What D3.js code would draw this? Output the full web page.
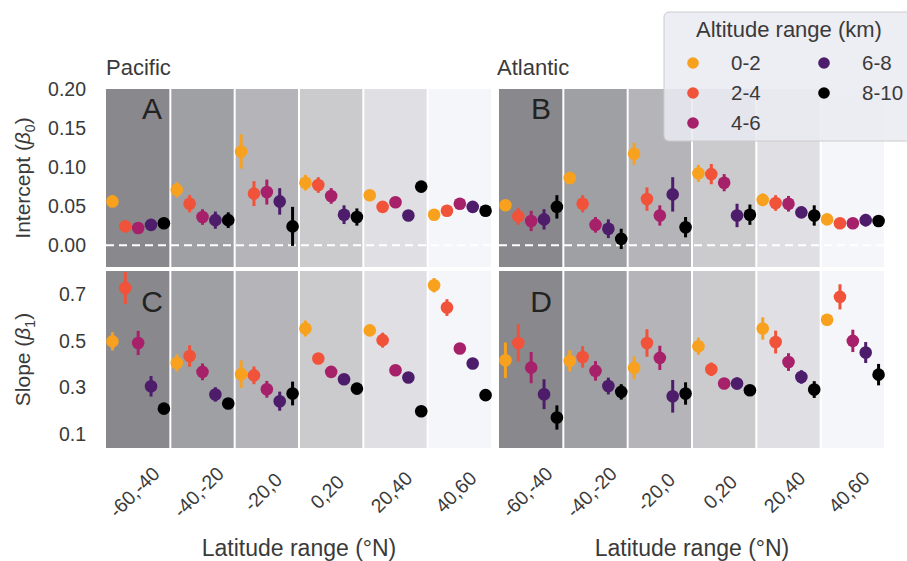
<!DOCTYPE html>
<head>
<meta charset="utf-8">
<script src="https://d3js.org/d3.v7.min.js"></script>
<style>
  body { margin: 0; background: #fff; }
  text { font-family: Arial, "Liberation Sans", sans-serif; }
</style>
</head>
<body>
<div id="datavis"></div>

<script type="text/javascript">
    // categories and series
    var latRanges = ["-60,-40", "-40,-20", "-20,0", "0,20", "20,40", "40,60"];
    var altRanges = ["0-2", "2-4", "4-6", "6-8", "8-10"];
    var altColors = ["#f8a11f", "#f0523a", "#a7216a", "#4d1c6a", "#000000"];
    var bandColors = ["#89888d", "#9fa0a4", "#b5b5b9", "#cbcbce", "#e0e0e4", "#f5f6f9"];

    var interceptTicks = [0.00, 0.05, 0.10, 0.15, 0.20];
    var slopeTicks = [0.1, 0.3, 0.5, 0.7];

    // one row per altitude range, one column per latitude range
    var pacificIntercept = [
      [0.056, 0.071, 0.120, 0.080, 0.064, 0.039],
      [0.024, 0.053, 0.066, 0.077, 0.049, 0.044],
      [0.022, 0.036, 0.068, 0.063, 0.055, 0.053],
      [0.026, 0.032, 0.056, 0.039, 0.038, 0.049],
      [0.028, 0.032, 0.024, 0.036, 0.075, 0.044]
    ];
    var pacificInterceptErr = [
      [0.003, 0.010, 0.022, 0.010, 0.003, 0.003],
      [0.003, 0.011, 0.016, 0.010, 0.003, 0.003],
      [0.003, 0.010, 0.016, 0.010, 0.003, 0.003],
      [0.003, 0.011, 0.017, 0.012, 0.003, 0.003],
      [0.003, 0.010, 0.025, 0.011, 0.003, 0.003]
    ];
    var atlanticIntercept = [
      [0.051, 0.086, 0.117, 0.092, 0.058, 0.033],
      [0.037, 0.053, 0.059, 0.091, 0.054, 0.028],
      [0.031, 0.026, 0.038, 0.080, 0.053, 0.028],
      [0.033, 0.021, 0.065, 0.038, 0.042, 0.032],
      [0.049, 0.008, 0.023, 0.039, 0.038, 0.031]
    ];
    var atlanticInterceptErr = [
      [0.004, 0.008, 0.014, 0.011, 0.008, 0.003],
      [0.011, 0.011, 0.015, 0.013, 0.010, 0.003],
      [0.013, 0.010, 0.013, 0.011, 0.010, 0.003],
      [0.013, 0.012, 0.022, 0.015, 0.007, 0.008],
      [0.015, 0.013, 0.013, 0.013, 0.013, 0.004]
    ];
    var pacificSlope = [
      [0.498, 0.405, 0.357, 0.553, 0.545, 0.739],
      [0.727, 0.435, 0.352, 0.424, 0.503, 0.643],
      [0.491, 0.367, 0.292, 0.367, 0.374, 0.467],
      [0.305, 0.270, 0.241, 0.335, 0.343, 0.403],
      [0.209, 0.231, 0.274, 0.295, 0.198, 0.267]
    ];
    var pacificSlopeErr = [
      [0.039, 0.037, 0.059, 0.034, 0.012, 0.031],
      [0.069, 0.046, 0.038, 0.012, 0.032, 0.036],
      [0.052, 0.036, 0.036, 0.012, 0.012, 0.012],
      [0.044, 0.031, 0.041, 0.012, 0.012, 0.012],
      [0.012, 0.015, 0.051, 0.012, 0.012, 0.012]
    ];
    var atlanticSlope = [
      [0.417, 0.414, 0.384, 0.477, 0.553, 0.591],
      [0.491, 0.431, 0.491, 0.378, 0.495, 0.689],
      [0.385, 0.371, 0.427, 0.317, 0.409, 0.500],
      [0.271, 0.306, 0.262, 0.317, 0.345, 0.450],
      [0.171, 0.281, 0.274, 0.288, 0.291, 0.355]
    ];
    var atlanticSlopeErr = [
      [0.076, 0.045, 0.049, 0.037, 0.048, 0.012],
      [0.080, 0.046, 0.059, 0.029, 0.049, 0.054],
      [0.067, 0.042, 0.052, 0.012, 0.038, 0.048],
      [0.064, 0.036, 0.070, 0.026, 0.029, 0.045],
      [0.052, 0.033, 0.048, 0.015, 0.036, 0.046]
    ];

    var dodge = [-0.4, -0.2, 0, 0.2, 0.4];

    var width = 907, height = 561;
    var svg = d3.select("#datavis")
                .append("svg")
                .attr("width", width)
                .attr("height", height);

    // column x extents and row y extents
    var cols = [{x0: 106, x1: 492}, {x0: 499, x1: 885}];
    var rows = [
      {y0: 89, y1: 267, domain: [-0.028, 0.2], ticks: interceptTicks, fmt: d3.format(".2f")},
      {y0: 271, y1: 448, domain: [0.04, 0.80], ticks: slopeTicks, fmt: d3.format(".1f")}
    ];

    var panels = [
      {col: 0, row: 0, letter: "A", lx: 46, ly: 119, vals: pacificIntercept, errs: pacificInterceptErr},
      {col: 1, row: 0, letter: "B", lx: 42, ly: 119, vals: atlanticIntercept, errs: atlanticInterceptErr},
      {col: 0, row: 1, letter: "C", lx: 46, ly: 312, vals: pacificSlope, errs: pacificSlopeErr},
      {col: 1, row: 1, letter: "D", lx: 42, ly: 312, vals: atlanticSlope, errs: atlanticSlopeErr}
    ];

    panels.forEach(function(p) {
      var c = cols[p.col], r = rows[p.row];
      var x = d3.scaleLinear().domain([-0.5, latRanges.length - 0.5]).range([c.x0, c.x1]);
      var y = d3.scaleLinear().domain(r.domain).range([r.y1, r.y0]);
      var g = svg.append("g");

      // shaded latitude bands
      g.selectAll("rect.band")
       .data(latRanges)
       .enter().append("rect")
       .attr("x", function(d, i) { return x(i - 0.5) + (i == 0 ? 0 : 1); })
       .attr("width", function(d, i) { return x(i + 0.5) - x(i - 0.5) - (i == 0 ? 1 : 2); })
       .attr("y", r.y0)
       .attr("height", r.y1 - r.y0)
       .attr("fill", function(d, i) { return bandColors[i]; });

      // zero line on intercept panels
      if (p.row == 0) {
        g.append("line")
         .attr("x1", c.x0).attr("x2", c.x1)
         .attr("y1", y(0)).attr("y2", y(0))
         .attr("stroke", "#fff")
         .attr("stroke-width", 2)
         .attr("stroke-dasharray", "8,5");
      }

      // panel letter
      g.append("text")
       .attr("x", c.x0 + p.lx)
       .attr("y", p.ly)
       .attr("text-anchor", "middle")
       .attr("font-size", 30)
       .attr("fill", "#222")
       .text(p.letter);

      // error bars and points
      altRanges.forEach(function(alt, k) {
        var pts = latRanges.map(function(lat, i) {
          return {xi: i + dodge[k], v: p.vals[k][i], e: p.errs[k][i]};
        });
        g.selectAll("line.err" + k)
         .data(pts)
         .enter().append("line")
         .attr("x1", function(d) { return x(d.xi); })
         .attr("x2", function(d) { return x(d.xi); })
         .attr("y1", function(d) { return y(d.v - d.e); })
         .attr("y2", function(d) { return y(d.v + d.e); })
         .attr("stroke", altColors[k])
         .attr("stroke-width", 3);
        g.selectAll("circle.pt" + k)
         .data(pts)
         .enter().append("circle")
         .attr("cx", function(d) { return x(d.xi); })
         .attr("cy", function(d) { return y(d.v); })
         .attr("r", 6.3)
         .attr("fill", altColors[k]);
      });

      // y tick labels only on the left column
      if (p.col == 0) {
        g.selectAll("text.ytick")
         .data(r.ticks)
         .enter().append("text")
         .attr("x", 86)
         .attr("y", function(d) { return y(d); })
         .attr("dy", "0.35em")
         .attr("text-anchor", "end")
         .attr("font-size", 19.5)
         .attr("fill", "#3a3a3a")
         .text(r.fmt);
      }

      // rotated x tick labels on the bottom row
      if (p.row == 1) {
        g.selectAll("text.xtick")
         .data(latRanges)
         .enter().append("text")
         .attr("transform", function(d, i) { return "translate(" + (x(i) - 4) + ",492) rotate(-45)"; })
         .attr("dy", "0.35em")
         .attr("text-anchor", "middle")
         .attr("font-size", 19.5)
         .attr("fill", "#3a3a3a")
         .text(function(d) { return d; });

        svg.append("text")
           .attr("x", (c.x0 + c.x1) / 2)
           .attr("y", 556)
           .attr("text-anchor", "middle")
           .attr("font-size", 23)
           .attr("fill", "#3a3a3a")
           .text("Latitude range (°N)");
      }
    });

    // ocean titles
    svg.append("text").attr("x", 106).attr("y", 75).attr("font-size", 22).attr("fill", "#3a3a3a").text("Pacific");
    svg.append("text").attr("x", 497).attr("y", 75).attr("font-size", 22).attr("fill", "#3a3a3a").text("Atlantic");

    // y axis titles
    var yl0 = svg.append("text")
                 .attr("transform", "translate(30," + (rows[0].y0 + rows[0].y1) / 2 + ") rotate(-90)")
                 .attr("text-anchor", "middle")
                 .attr("font-size", 21)
                 .attr("fill", "#3a3a3a");
    yl0.append("tspan").text("Intercept (");
    yl0.append("tspan").attr("font-style", "italic").text("β");
    yl0.append("tspan").attr("font-size", 14).attr("dy", 5).text("0");
    yl0.append("tspan").attr("dy", -5).text(")");

    var yl1 = svg.append("text")
                 .attr("transform", "translate(30," + (rows[1].y0 + rows[1].y1) / 2 + ") rotate(-90)")
                 .attr("text-anchor", "middle")
                 .attr("font-size", 21)
                 .attr("fill", "#3a3a3a");
    yl1.append("tspan").text("Slope (");
    yl1.append("tspan").attr("font-style", "italic").text("β");
    yl1.append("tspan").attr("font-size", 14).attr("dy", 5).text("1");
    yl1.append("tspan").attr("dy", -5).text(")");

    // legend
    var leg = svg.append("g");
    leg.append("rect")
       .attr("x", 664).attr("y", 12)
       .attr("width", 250).attr("height", 129)
       .attr("rx", 5)
       .attr("fill", "#eaeaf2").attr("fill-opacity", 0.85)
       .attr("stroke", "#cccccc");
    leg.append("text")
       .attr("x", 789).attr("y", 37)
       .attr("text-anchor", "middle")
       .attr("font-size", 22)
       .attr("fill", "#3a3a3a")
       .text("Altitude range (km)");
    var item = leg.selectAll("g.item")
                  .data(altRanges)
                  .enter().append("g")
                  .attr("transform", function(d, i) {
                    return "translate(" + (i < 3 ? 693 : 824) + "," + (63 + 30 * (i % 3)) + ")";
                  });
    item.append("circle").attr("r", 5.8).attr("fill", function(d, i) { return altColors[i]; });
    item.append("text")
        .attr("x", 38).attr("dy", "0.35em")
        .attr("font-size", 20.5)
        .attr("fill", "#3a3a3a")
        .text(function(d) { return d; });
</script>
</body>
